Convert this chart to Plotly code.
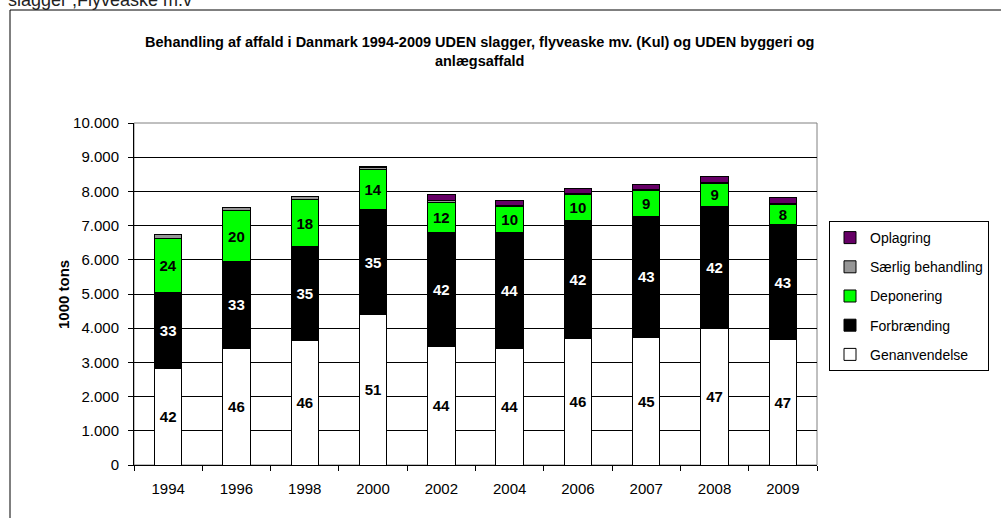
import plotly.graph_objects as go

years = ["1994", "1996", "1998", "2000", "2002", "2004", "2006", "2007", "2008", "2009"]
genanvendelse = [2835, 3420, 3640, 4390, 3460, 3410, 3690, 3730, 4000, 3680]
forbraending = [2220, 2530, 2750, 3090, 3350, 3400, 3470, 3550, 3560, 3340]
deponering = [1580, 1480, 1360, 1150, 880, 745, 735, 735, 685, 600]
saerlig = [100, 110, 110, 60, 30, 30, 30, 30, 30, 30]
oplagring = [0, 0, 0, 30, 190, 150, 170, 165, 170, 165]

gen_pct = ["42", "46", "46", "51", "44", "44", "46", "45", "47", "47"]
forb_pct = ["33", "33", "35", "35", "42", "44", "42", "43", "42", "43"]
dep_pct = ["24", "20", "18", "14", "12", "10", "10", "9", "9", "8"]

W, H = 1001, 518
ML, MR, MT, MB = 134, 184, 123, 53
PW, PH = W - ML - MR, H - MT - MB


def px(x):
    return (x - ML) / PW


def py(y):
    return 1 - (y - MT) / PH


FONT = "Liberation Sans, Arial, sans-serif"

fig = go.Figure()
series = [
    ("Genanvendelse", genanvendelse, "#FFFFFF", gen_pct, "black", 5),
    ("Forbrænding", forbraending, "#000000", forb_pct, "white", 4),
    ("Deponering", deponering, "#00FF00", dep_pct, "black", 3),
    ("Særlig behandling", saerlig, "#969696", None, "black", 2),
    ("Oplagring", oplagring, "#660066", None, "black", 1),
]
for name, vals, col, txt, tcol, rank in series:
    fig.add_trace(go.Bar(
        x=years, y=vals, name=name, legendgroup=name, legendrank=rank,
        marker=dict(color=col, line=dict(color="black", width=1)),
        text=txt, textposition="inside" if txt else "none",
        insidetextanchor="middle", textangle=0,
        textfont=dict(family=FONT, size=15, color=tcol, weight="bold"),
        hoverinfo="x+y+name",
    ))

fig.update_layout(
    width=W, height=H, barmode="stack", bargap=0.6,
    margin=dict(l=ML, r=MR, t=MT, b=MB, autoexpand=False),
    paper_bgcolor="white", plot_bgcolor="white",
    separators=",.",
    font=dict(family=FONT, size=15, color="black"),
    uniformtext=dict(minsize=15, mode="show"),
    legend=dict(
        x=px(829), y=py(221), xanchor="left", yanchor="top",
        traceorder="grouped", tracegroupgap=8,
        bordercolor="black", borderwidth=1, bgcolor="white",
        font=dict(family=FONT, size=14, color="black"),
        itemwidth=30,
    ),
    xaxis=dict(
        type="category", showgrid=False, showline=True, linecolor="black", linewidth=1,
        ticks="outside", tickson="boundaries", ticklen=5, tickcolor="black",
        tickfont=dict(family=FONT, size=15, color="black"), ticklabelstandoff=10,
    ),
    yaxis=dict(
        range=[0, 10000], dtick=1000, tickformat=",d",
        showgrid=True, gridcolor="black", gridwidth=1,
        showline=True, linecolor="black", linewidth=1,
        ticks="outside", ticklen=5, tickcolor="black",
        tickfont=dict(family=FONT, size=15, color="black"), ticklabelstandoff=6,
        zeroline=False,
    ),
    shapes=[
        dict(type="rect", xref="paper", yref="paper", x0=0, x1=1, y0=0, y1=1,
             line=dict(color="#808080", width=1), layer="below"),
        dict(type="rect", xref="paper", yref="paper", x0=px(10), x1=px(1010),
             y0=py(530), y1=py(10), line=dict(color="black", width=1), layer="below"),
    ],
    annotations=[
        dict(text="Behandling af affald i Danmark 1994-2009 UDEN slagger, flyveaske mv. (Kul) og UDEN byggeri og<br>anlægsaffald",
             xref="paper", yref="paper", x=px(479), y=py(51), xanchor="center", yanchor="middle",
             showarrow=False, font=dict(family=FONT, size=14.5, color="black", weight="bold")),
        dict(text="1000 tons", textangle=-90, xref="paper", yref="paper",
             x=px(63), y=py(295), xanchor="center", yanchor="middle", showarrow=False,
             font=dict(family=FONT, size=15, color="black", weight="bold")),
        dict(text="slagger ,Flyveaske m.v", xref="paper", yref="paper",
             x=px(6), y=py(0), xanchor="left", yanchor="middle", showarrow=False,
             font=dict(family=FONT, size=18, color="#222222")),
    ],
)

fig.write_html("out.html", config={"displayModeBar": False},
               post_script="document.body.style.margin='0';")
